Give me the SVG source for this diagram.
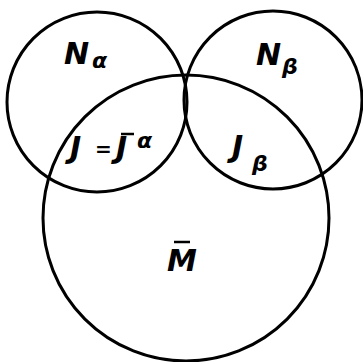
<svg xmlns="http://www.w3.org/2000/svg" width="363" height="362" viewBox="0 0 363 362">
<style>
.c{fill:none;stroke:#000;stroke-width:3}
.t{font-family:"DejaVu Sans","Liberation Sans",sans-serif;font-style:italic;font-weight:bold;fill:#000}
.b{font-size:30px}
.s{font-size:22px}
.e{font-size:20px}
.o{stroke:#000;stroke-width:2.5}
</style>
<rect width="363" height="362" fill="#fff"/>
<g id="connectors"></g>
<g id="N_alpha"><circle class="c" cx="97" cy="102" r="90"/><text class="t b" x="64" y="64">N</text><text class="t s" x="92" y="68">α</text></g>
<g id="N_beta"><circle class="c" cx="273" cy="100" r="89"/><text class="t b" x="256" y="65">N</text><text class="t s" x="282" y="74">β</text></g>
<g id="M_bar"><circle class="c" cx="186" cy="218" r="143"/><text class="t b" x="167" y="271">M</text><line class="o" x1="174" y1="242" x2="190" y2="242"/></g>
<g id="J_alpha"><text class="t b" x="70" y="158">J</text><text class="t e" x="95" y="156">=</text><text class="t b" x="116" y="158">J</text><line class="o" x1="121" y1="134" x2="134" y2="134"/><text class="t s" x="137" y="148">α</text></g>
<g id="J_beta"><text class="t b" x="232" y="157">J</text><text class="t s" x="252" y="171">β</text></g>
</svg>
